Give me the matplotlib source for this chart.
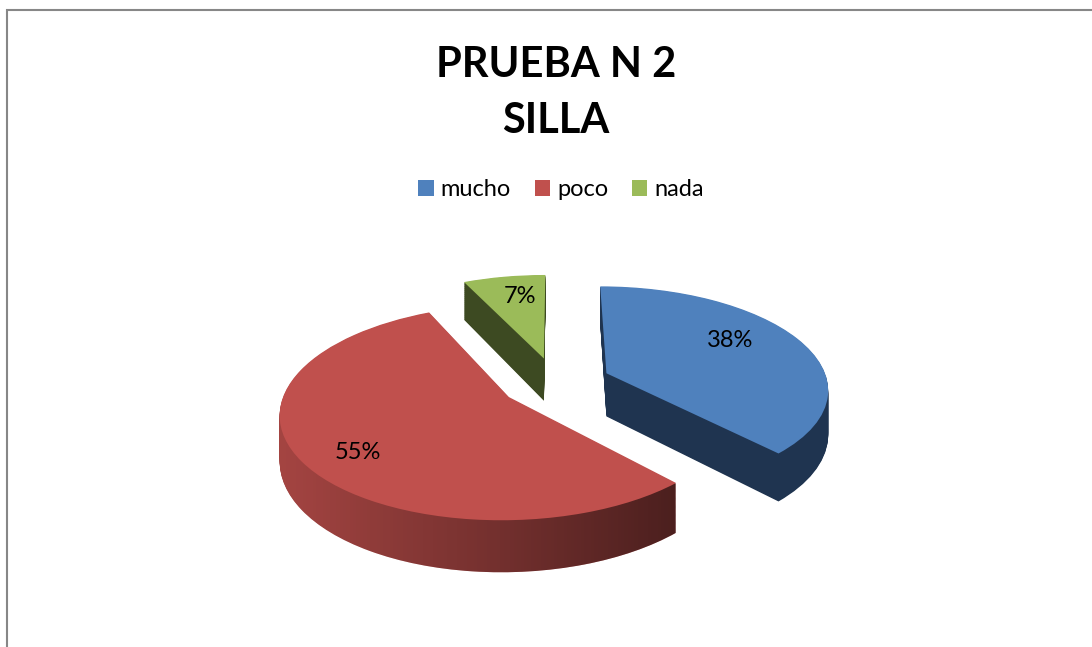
import matplotlib
matplotlib.use("Agg")
import matplotlib.pyplot as plt
import matplotlib.transforms as mtransforms
import numpy as np
from matplotlib.patches import Patch, Rectangle
from matplotlib.path import Path

plt.rcParams['font.family'] = ['Lato', 'DejaVu Sans']

# data
labels = ['mucho', 'poco', 'nada']
values = [38, 55, 7]

top_colors = ['#4F81BD', '#C0504D', '#9BBB59']
side_colors = ['#1F3450', '#C0504D', '#3D4A22']
explode = [0.25, 0.25, 0.25]

W, H = 1092, 647

# simple pinhole view of the pie plane (pixel units, y pointing down)
X0, Y0 = 555.6, 382.5   # centre of the pie on screen
SX, SY = 221.4, 101.5   # radius across / up
PERSP = 0.14            # far side shrinks
DEPTH = 43.7            # thickness of the pie


class PieView(mtransforms.Transform):
    input_dims = output_dims = 2
    is_separable = False
    has_inverse = False

    def __init__(self, z=0.0):
        super().__init__()
        self.z = z

    def transform_non_affine(self, values):
        values = np.asarray(values, dtype=float)
        u, v = values[:, 0], values[:, 1]
        s = 1.0 / (1.0 + PERSP * v)
        return np.column_stack([X0 + SX * u * s, Y0 - SY * v * s + self.z * DEPTH * s])


fig = plt.figure(figsize=(W / 100, H / 100), dpi=100)
ax = fig.add_axes([0, 0, 1, 1])
ax.axis('off')

# side walls: stack of pies going down
n_layers = 56
red_side_paths = []
for k in range(n_layers, 0, -1):
    view = PieView(k / n_layers)
    wedges, _ = ax.pie(values, explode=explode, colors=side_colors, startangle=90,
                       counterclock=False, wedgeprops=dict(linewidth=0, zorder=1))
    for w in wedges:
        w.set_transform(view + ax.transData)
    red_side_paths.append(view.transform_path(wedges[1].get_path()))

# darkening gradient on the red wall (light on the left, dark on the right)
xs = np.linspace(250, 720, 300)
fac = np.interp(xs, [283, 677], [0.85, 0.39])
rgba = np.zeros((2, xs.size, 4))
rgba[..., 3] = 1 - fac
img = ax.imshow(rgba, extent=[250, 720, 600, 250], aspect='auto', zorder=2,
                interpolation='bilinear')
img.set_clip_path(Path.make_compound_path(*red_side_paths), ax.transData)

# top faces
top_view = PieView(0.0)
wedges, texts, autotexts = ax.pie(values, explode=explode, colors=top_colors,
                                  startangle=90, counterclock=False,
                                  autopct='%1.0f%%', pctdistance=0.75,
                                  wedgeprops=dict(linewidth=0, zorder=3),
                                  textprops=dict(fontsize=17, color='black', zorder=4))
for w in wedges:
    w.set_transform(top_view + ax.transData)

# percentage labels roughly where Excel puts them
shift = [8.4, 4.8, -2.6]
dist = [0.70, 0.78, 0.73]
for w, t, s, d in zip(wedges, autotexts, shift, dist):
    ang = np.deg2rad((w.theta1 + w.theta2) / 2 + s)
    c = w.center
    t.set_position((c[0] + d * np.cos(ang), c[1] + d * np.sin(ang)))
    t.set_transform(top_view + ax.transData)
    t.set_ha('center')
    t.set_va('center')

ax.set_aspect('auto')
ax.set_xlim(0, W)
ax.set_ylim(H, 0)

fig.text(556 / W, 1 - 77 / H, 'PRUEBA N 2', ha='center', va='baseline',
         fontsize=30, fontweight='bold')
fig.text(556 / W, 1 - 133 / H, 'SILLA', ha='center', va='baseline',
         fontsize=30, fontweight='bold')

handles = [Patch(facecolor=c, edgecolor='none') for c in top_colors]
fig.legend(handles, labels, loc='center', bbox_to_anchor=(561 / W, 1 - 190 / H),
           ncol=3, frameon=False, fontsize=17, handlelength=0.65, handleheight=0.65,
           handletextpad=0.3, columnspacing=1.0)

fig.add_artist(Rectangle((6.5 / W, -0.1), 1.2, 1.1 - 9.5 / H,
                         transform=fig.transFigure, fill=False,
                         edgecolor='#878787', linewidth=1.5))

fig.savefig('out.png', dpi=100)
